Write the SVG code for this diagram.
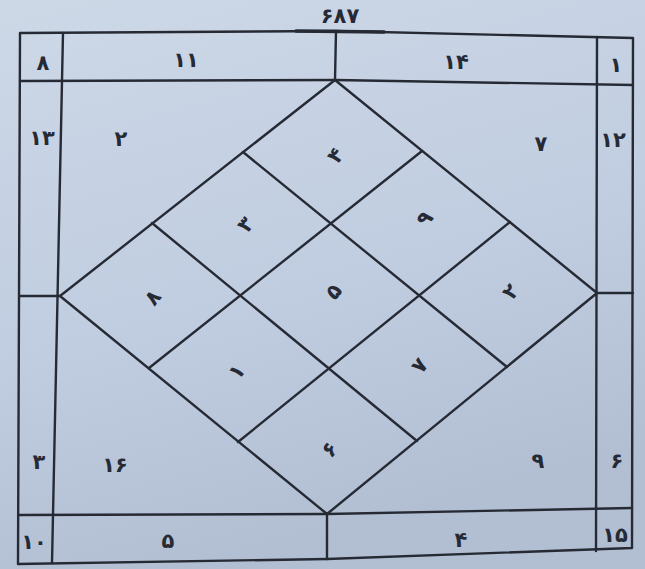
<svg xmlns="http://www.w3.org/2000/svg" width="645" height="569" viewBox="0 0 645 569">
<defs>
<linearGradient id="bg" x1="0" y1="0" x2="0.3" y2="1">
<stop offset="0" stop-color="#cdd8e7"/>
<stop offset="0.6" stop-color="#c0cde0"/>
<stop offset="1" stop-color="#b2bfd3"/>
</linearGradient>
</defs>
<style>
.ln{stroke:#262a35;stroke-width:2.4;fill:none;stroke-linecap:round;stroke-linejoin:round}
.t{font-family:"DejaVu Sans",sans-serif;font-size:21px;font-weight:bold;fill:#262a35;text-anchor:middle}
</style>
<rect width="645" height="569" fill="url(#bg)"/>
<g id="frame">
<polyline class="ln" points="20,33 336,31 633,38 632,548 327,559 18,564 20,33"/>
<line class="ln" x1="63" y1="33" x2="52" y2="563"/>
<line class="ln" x1="597" y1="37" x2="596" y2="551"/>
<polyline class="ln" points="20,81 335,80 633,85"/>
<polyline class="ln" points="19,515 327,514 632,508"/>
<line class="ln" x1="336" y1="31" x2="335" y2="80"/>
<line class="ln" x1="327" y1="514" x2="327" y2="559"/>
<line class="ln" x1="20" y1="296" x2="60" y2="296"/>
<line class="ln" x1="597" y1="293" x2="633" y2="293"/>
<line class="ln" x1="296" y1="31" x2="384" y2="32" style="stroke-width:3.6"/>
</g>
<g id="diamond">
<polygon class="ln" points="335,80 597,293 327,514 60,296"/>
<line class="ln" x1="243" y1="152" x2="507" y2="367"/>
<line class="ln" x1="152" y1="223" x2="417" y2="441"/>
<line class="ln" x1="422" y1="151" x2="149" y2="368"/>
<line class="ln" x1="510" y1="222" x2="238" y2="442"/>
</g>
<g id="title"><text class="t" x="340" y="23">۶۸۷</text></g>
<g id="outer-cells">
<text class="t" x="43" y="70">۸</text>
<text class="t" x="186" y="67">۱۱</text>
<text class="t" x="456" y="69">۱۴</text>
<text class="t" x="616" y="72">۱</text>
<text class="t" x="42" y="145">۱۳</text>
<text class="t" x="121" y="146">۲</text>
<text class="t" x="541" y="151">۷</text>
<text class="t" x="613" y="147">۱۲</text>
<text class="t" x="39" y="469">۳</text>
<text class="t" x="115" y="472">۱۶</text>
<text class="t" x="538" y="468">۹</text>
<text class="t" x="617" y="468">۶</text>
<text class="t" x="34" y="549">۱۰</text>
<text class="t" x="168" y="548">۵</text>
<text class="t" x="461" y="547">۴</text>
<text class="t" x="615" y="542">۱۵</text>
</g>
<g id="inner-cells">
<text class="t" x="335" y="163" transform="rotate(-52 335 155)">۴</text>
<text class="t" x="245" y="232" transform="rotate(-52 245 224)">۳</text>
<text class="t" x="424" y="226" transform="rotate(-52 424 218)">۹</text>
<text class="t" x="152" y="305" transform="rotate(-52 152 297)">۸</text>
<text class="t" x="333" y="299" transform="rotate(-52 333 291)">۵</text>
<text class="t" x="510" y="299" transform="rotate(-52 510 291)">۲</text>
<text class="t" x="236" y="379" transform="rotate(-52 236 371)">۱</text>
<text class="t" x="419" y="373" transform="rotate(-52 419 365)">۷</text>
<text class="t" x="329" y="457" transform="rotate(-52 329 449)">۶</text>
</g>
</svg>
